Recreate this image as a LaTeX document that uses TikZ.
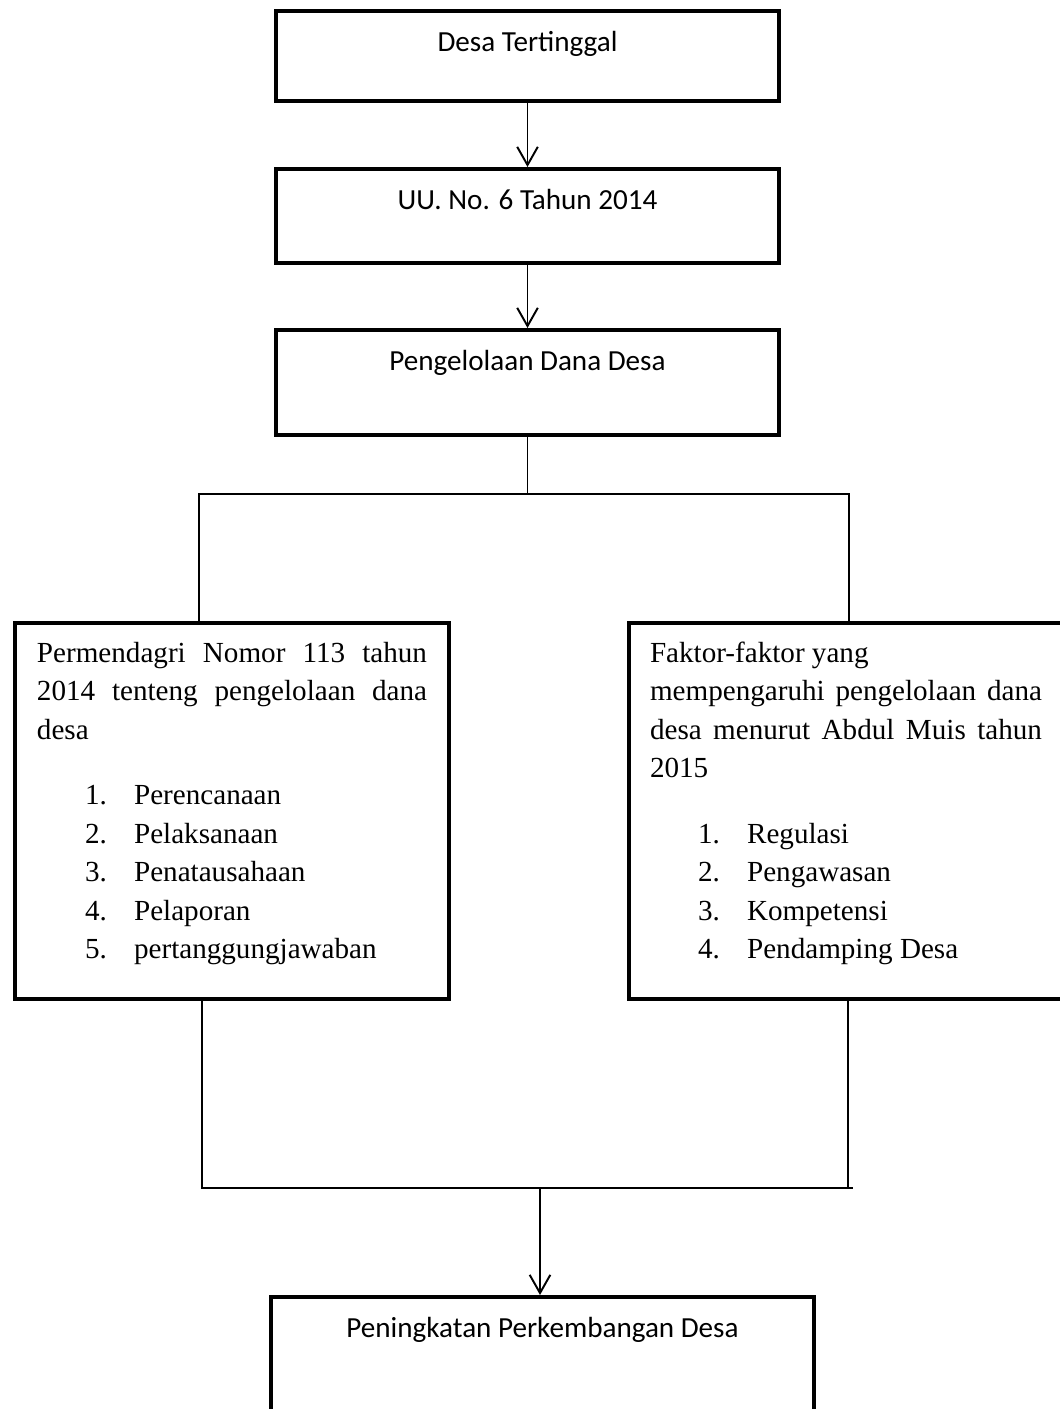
\documentclass[tikz,border=0pt]{standalone}
\usepackage{fontspec}
\setmainfont{Liberation Serif}
\newfontfamily\calibri{Carlito}
\usetikzlibrary{arrows.meta}
\usetikzlibrary{calc}

\tikzset{
  kotak/.style={draw, line width=1.65pt, inner sep=0pt, minimum width=207.2pt,
    text height=16.5pt, font=\calibri\fontsize{12}{14.4}\selectfont},
  kotakisi/.style={draw, line width=1.65pt, inner ysep=0pt, align=justify,
    text height=16.07pt, text depth=138.8pt, font=\fontsize{12}{15.86}\selectfont,
    execute at begin node={\sloppy\hyphenpenalty=10000\relax}},
  garis/.style={line width=0.8pt},
  panah/.style={line width=0.8pt, -{Straight Barb[length=7.5pt,width=8.5pt]}},
}
\newcommand{\butir}[2]{\par\hspace*{19.8pt}\makebox[20.2pt][l]{#1}#2}

\begin{document}
\begin{tikzpicture}[x=0.412pt, y=-0.412pt]
    \useasboundingbox (0,0) rectangle (1059,1409);

    \node[kotak, anchor=north, text depth=20.6pt] (tertinggal) at (527.5,9) {Desa Tertinggal};
    \node[kotak, anchor=north, text depth=22.2pt] (uu) at (527.5,167) {UU. No. 6 Tahun 2014};
    \node[kotak, anchor=north, text depth=26.8pt] (pengelolaan) at (527.5,328) {Pengelolaan Dana Desa};

    \node[kotakisi, anchor=north west, text width=160.7pt, inner xsep=9.06pt] (permendagri) at (13,621) {%
        Permendagri Nomor 113 tahun 2014 tenteng pengelolaan dana desa\par
        \vspace{11.3pt}
        \butir{1.}{Perencanaan}
        \butir{2.}{Pelaksanaan}
        \butir{3.}{Penatausahaan}
        \butir{4.}{Pelaporan}
        \butir{5.}{pertanggungjawaban}};
    \node[kotakisi, anchor=north west, text width=200pt, inner xsep=8.65pt] (faktor) at (627,621) {%
        \parbox[t]{161.5pt}{\sloppy\hyphenpenalty=10000
        Faktor-faktor yang\\ mempengaruhi pengelolaan dana desa menurut Abdul Muis tahun 2015\par
        \vspace{11.3pt}
        \butir{1.}{Regulasi}
        \butir{2.}{Pengawasan}
        \butir{3.}{Kompetensi}
        \butir{4.}{Pendamping Desa}}};

    \node[kotak, anchor=north, minimum width=223.7pt, text depth=38.7pt] (peningkatan) at (542.5,1295) {Peningkatan Perkembangan Desa};

    \coordinate (cabang) at (527.5,494);
    \coordinate (cabangkiri) at (199,494);
    \coordinate (cabangkanan) at (849,494);
    \coordinate (gabungkiri) at (202,1188);
    \coordinate (gabungkanan) at (848,1188);
    \coordinate (ujung) at (853,1188);
    \coordinate (gabung) at (540,1188);

    \draw[panah] (tertinggal) -- (uu);
    \draw[panah] (uu) -- (pengelolaan);
    \draw[garis] (pengelolaan) -- (cabang);
    \draw[garis] (permendagri.north -| cabangkiri) -- (cabangkiri) -- (cabangkanan) -- (faktor.north -| cabangkanan);
    \draw[garis] (permendagri.south -| gabungkiri) -- (gabungkiri) -- (ujung);
    \draw[garis] (faktor.south -| gabungkanan) -- (gabungkanan);
    \draw[panah] (gabung) -- (gabung |- peningkatan.north);
\end{tikzpicture}
\end{document}
